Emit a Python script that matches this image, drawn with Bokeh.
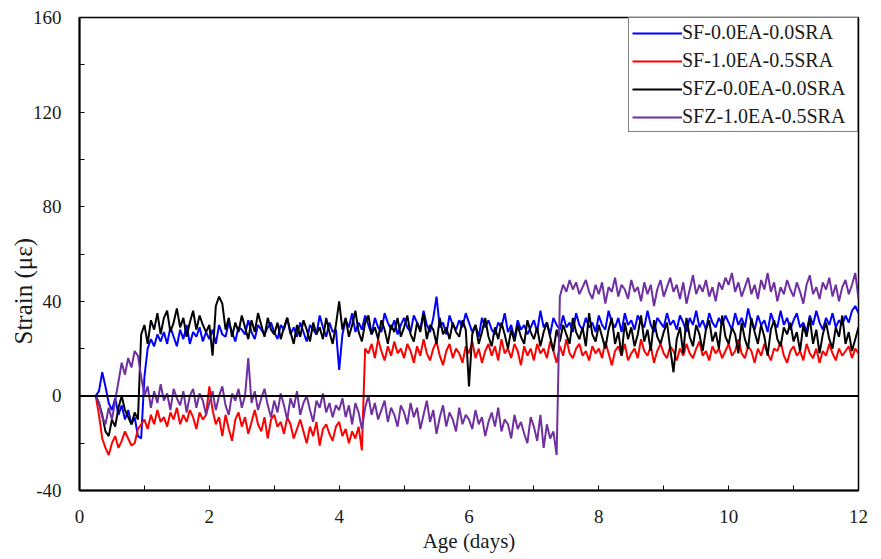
from bokeh.plotting import figure
from bokeh.models import Range1d, FixedTicker, Span, Legend, LegendItem, Title
from bokeh.embed import file_html
from bokeh.resources import INLINE

# ---------------- data ----------------
start_day = 0.25
step_day = 0.05

series_names = ["SF-0.0EA-0.0SRA", "SF-1.0EA-0.5SRA", "SFZ-0.0EA-0.0SRA", "SFZ-1.0EA-0.5SRA"]
series_colors = ["#0000FF", "#FF0000", "#000000", "#7030A0"]

sf_00 = (
    [0, 2, 10, 4, -3, -6, -1, -8, -4, -10, -6, -12, -9, -17, -18]
    + [8, 20, 24, 21, 26, 23, 27, 22, 29, 25, 21, 28, 24, 30, 22, 27, 25, 29, 23, 27]
    + [24, 28, 22, 30, 26, 25, 31, 27, 23, 29, 28, 26, 32, 27, 24, 30, 28, 26, 29, 31]
    + [27, 24, 30, 28, 33, 26, 29, 25, 31, 27, 23, 30, 28, 26, 34, 29, 25, 31, 27, 28]
    + [11, 26, 32, 29, 35, 27, 31, 28, 34, 30, 26, 33, 29, 27, 35, 31, 28, 32, 26, 30]
    + [33, 29, 27, 34, 31, 28, 36, 30, 27, 33, 42, 29, 31, 26, 34, 30, 28, 32, 29, 35]
    + [31, 27, 30, 25, 33, 29, 32, 28, 26, 31, 29, 35, 27, 30, 24, 32, 28, 30, 26, 29]
    + [32, 27, 36, 29, 31, 26, 33, 30, 28, 34, 29, 31, 27, 35, 30, 28, 33, 29, 31, 27]
    + [34, 30, 28, 36, 31, 29, 33, 27, 35, 30, 32, 28, 34, 31, 29, 36, 30, 27, 33, 31]
    + [29, 35, 30, 32, 28, 34, 31, 27, 33, 30, 36, 29, 32, 28, 35, 31, 29, 33, 30, 34]
    + [31, 28, 35, 30, 33, 29, 37, 31, 28, 34, 30, 32, 27, 35, 31, 29, 36, 30, 33, 28]
    + [32, 35, 29, 31, 27, 34, 30, 36, 31, 28, 33, 30, 35, 29, 32, 30, 34, 31, 36, 38]
    + [35]
)

sf_10 = (
    [0, -8, -18, -22, -25, -20, -17, -22, -19, -15, -18, -21, -20, -14, -12]
    + [-10, -14, -8, -12, -6, -11, -9, -13, -7, -10, -5, -12, -8, -11, -6, -9, -14, -7, -10, -8]
    + [4, -6, -12, -9, -17, -8, -14, -19, -10, -7, -13, -9, -16, -11, -6, -12, -15, -9, -18, -10]
    + [-8, -13, -11, -16, -9, -12, -18, -14, -10, -15, -20, -13, -17, -11, -21, -14, -12, -16, -19, -13]
    + [-11, -17, -14, -20, -15, -18, -13, -23, 20, 18, 22, 16, 24, 19, 15, 21, 17, 23, 18, 20]
    + [16, 22, 19, 14, 21, 17, 24, 18, 15, 20, 23, 17, 13, 19, 22, 16, 20, 18, 14, 21]
    + [18, 23, 16, 20, 14, 19, 22, 17, 21, 15, 24, 18, 20, 16, 22, 19, 13, 21, 17, 20]
    + [15, 22, 18, 20, 16, 23, 19, 14, 21, 17, 24, 18, 16, 20, 22, 17, 19, 15, 21, 18]
    + [20, 16, 23, 18, 13, 19, 21, 17, 22, 15, 18, 20, 16, 24, 19, 17, 21, 14, 19, 22]
    + [18, 16, 21, 19, 15, 20, 17, 22, 18, 16, 20, 23, 17, 19, 15, 21, 18, 20, 16, 19]
    + [22, 17, 19, 24, 18, 16, 21, 19, 14, 20, 17, 22, 18, 15, 20, 19, 23, 17, 14, 19]
    + [21, 17, 19, 15, 22, 18, 16, 20, 14, 19, 17, 22, 18, 15, 20, 17, 19, 21, 16, 20]
    + [18]
)

sfz_00 = (
    [0, -3, -8, -15, -17, -10, -13, -5, 0, -6, -9, -12, -7, -10, 26]
    + [30, 22, 32, 28, 35, 26, 33, 36, 27, 31, 37, 29, 33, 25, 31, 36, 28, 34, 30, 27]
    + [30, 17, 38, 42, 39, 28, 33, 25, 31, 27, 34, 29, 24, 32, 27, 35, 30, 25, 33, 28]
    + [26, 31, 24, 29, 33, 27, 22, 30, 25, 32, 28, 23, 31, 26, 29, 24, 33, 27, 22, 30]
    + [40, 28, 33, 25, 30, 36, 27, 23, 31, 34, 26, 29, 24, 32, 28, 22, 30, 27, 33, 25]
    + [29, 34, 26, 23, 31, 27, 35, 24, 30, 28, 22, 33, 26, 29, 24, 31, 27, 25, 32, 28]
    + [4, 26, 30, 22, 27, 33, 25, 21, 29, 24, 31, 26, 20, 28, 23, 30, 25, 22, 32, 27]
    + [24, 29, 21, 27, 31, 25, 19, 28, 23, 30, 26, 22, 33, 27, 24, 29, 21, 35, 26, 23]
    + [30, 25, 20, 28, 33, 22, 27, 17, 31, 24, 29, 21, 26, 34, 23, 28, 19, 32, 25, 22]
    + [27, 31, 20, 10, 24, 29, 18, 33, 25, 21, 30, 26, 19, 28, 32, 23, 27, 20, 34, 25]
    + [22, 29, 26, 18, 31, 24, 20, 33, 27, 22, 30, 25, 17, 28, 32, 24, 21, 29, 26, 31]
    + [23, 27, 19, 30, 25, 33, 22, 28, 18, 26, 31, 24, 20, 29, 25, 34, 22, 27, 19, 24]
    + [29]
)

sfz_10 = (
    [0, -3, -9, -12, -5, -10, -2, 6, 14, 9, 16, 12, 19, 17, 8]
    + [0, 4, -5, 2, -3, 5, -2, 1, -6, 3, -1, -4, 2, -7, 0, 3, -5, 1, -2, -8]
    + [-3, 2, -6, 0, 4, -4, -8, 1, -2, 3, -5, 0, 16, -3, 2, -6, -1, 3, -4, -9]
    + [-2, -7, 1, -4, -10, -1, -5, 2, -8, -3, 0, -6, -11, -2, -5, 1, -7, -3, -9, -4]
    + [-6, -1, -9, -4, -12, -3, -7, -14, -5, 0, -8, -3, -10, -6, -2, -11, -5, -8, -13, -4]
    + [-7, -12, -3, -9, -5, -14, -8, -2, -11, -6, -16, -9, -4, -13, -7, -10, -15, -5, -12, -8]
    + [-10, -14, -6, -12, -9, -17, -11, -7, -13, -5, -15, -10, -12, -18, -8, -14, -11, -16, -20, -9]
    + [-13, -19, -8, -22, -12, -18, -15, -25, 42, 47, 44, 49, 45, 48, 43, 46, 49, 44, 41, 47]
    + [43, 48, 39, 46, 44, 50, 42, 47, 45, 41, 49, 44, 46, 40, 48, 43, 47, 38, 45, 49]
    + [42, 46, 50, 44, 47, 41, 48, 39, 45, 51, 43, 47, 44, 49, 42, 46, 40, 48, 45, 50]
    + [47, 52, 44, 48, 42, 46, 50, 43, 47, 41, 49, 45, 52, 44, 48, 40, 46, 43, 49, 45]
    + [42, 48, 44, 39, 47, 51, 43, 46, 41, 48, 45, 50, 42, 47, 40, 46, 49, 43, 47, 52]
    + [41]
)

x_ticks = [0, 2, 4, 6, 8, 10, 12]
x_minor_ticks = [1, 3, 5, 7, 9, 11]
y_ticks = [-40, 0, 40, 80, 120, 160]
y_minor_ticks = [-20, 20, 60, 100, 140]
y_tick_labels = {-40: "-40", 0: "0", 40: "40", 80: "80", 120: "120", 160: "160"}

FONT = "Liberation Serif"
TXT = "#1a1a1a"

# ---------------- figure ----------------
p = figure(width=881, height=559, output_backend="svg", toolbar_location=None,
           x_range=Range1d(0, 12), y_range=Range1d(-40, 160),
           min_border_left=79, min_border_right=23, min_border_top=17, min_border_bottom=69)
p.xgrid.visible = False
p.ygrid.visible = False
p.outline_line_color = "black"
p.outline_line_width = 1.5
p.background_fill_color = "white"
p.border_fill_color = "white"

for ax, tk, mt in ((p.xaxis[0], x_ticks, x_minor_ticks), (p.yaxis[0], y_ticks, y_minor_ticks)):
    ax.ticker = FixedTicker(ticks=tk, minor_ticks=mt)
    ax.axis_line_color = "black"
    ax.axis_line_width = 2
    ax.major_tick_in = 5
    ax.major_tick_out = 0
    ax.minor_tick_in = 5
    ax.minor_tick_out = 0
    ax.major_tick_line_color = "black"
    ax.minor_tick_line_color = "black"
    ax.major_label_text_font = FONT
    ax.major_label_text_font_size = "19px"
    ax.major_label_text_color = TXT

p.yaxis.major_label_overrides = y_tick_labels
p.xaxis.major_label_standoff = 19
p.yaxis.major_label_standoff = 18
p.xaxis.axis_label = "Age (days)"
p.xaxis.axis_label_text_font = FONT
p.xaxis.axis_label_text_font_size = "21px"
p.xaxis.axis_label_text_font_style = "normal"
p.xaxis.axis_label_text_color = TXT
p.xaxis.axis_label_standoff = 3

ytitle = Title(text="Strain (με)", align="left", offset=146,
               text_font=FONT, text_font_size="25px", text_font_style="normal",
               text_color=TXT, standoff=-14)
p.add_layout(ytitle, "left")

p.add_layout(Span(location=0, dimension="width", line_color="black", line_width=2))

ages = [round(start_day + step_day * i, 2) for i in range(len(sf_00))]
renderers = []
for vals, col in zip([sf_00, sf_10, sfz_00, sfz_10], series_colors):
    xs = ages[:len(vals)]
    r = p.line(xs, vals, line_color=col, line_width=2)
    renderers.append(r)

legend = Legend(items=[LegendItem(label=n, renderers=[r]) for n, r in zip(series_names, renderers)],
                location="top_right")
legend.margin = 0
legend.padding = 3
legend.spacing = 5
legend.glyph_width = 50
legend.glyph_height = 20
legend.label_height = 20
legend.label_width = 172
legend.label_standoff = 0
legend.label_text_font = FONT
legend.label_text_font_size = "20px"
legend.label_text_color = TXT
legend.border_line_color = "black"
legend.border_line_width = 1.5
legend.background_fill_alpha = 1
p.add_layout(legend)

open("out.html", "w").write(file_html(p, INLINE))
